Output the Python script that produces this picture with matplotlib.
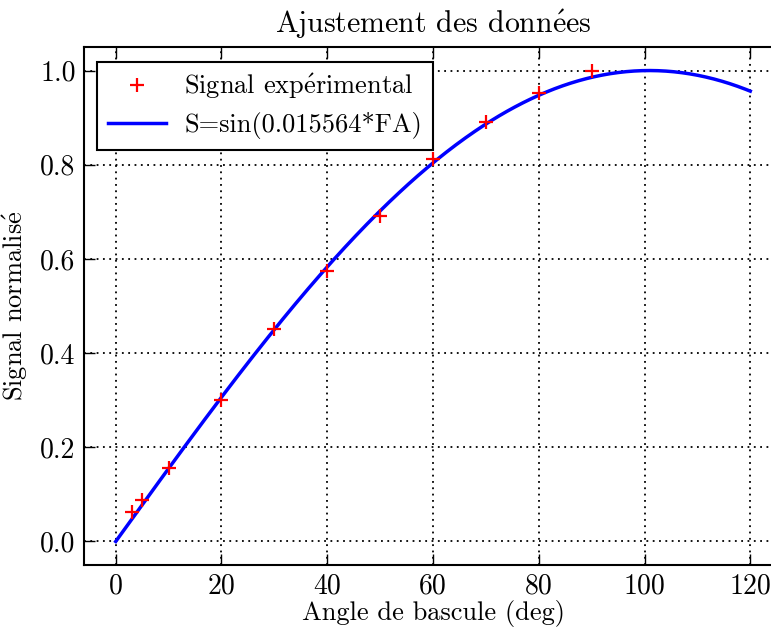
import numpy as np
import matplotlib
matplotlib.use('Agg')
import matplotlib.pyplot as plt

plt.rcParams['font.family'] = 'serif'
plt.rcParams['font.serif'] = ['cmr10']
plt.rcParams['mathtext.fontset'] = 'cm'
plt.rcParams['axes.formatter.use_mathtext'] = True

# measured points (flip angle in deg, normalised signal)
angles = [3, 5, 10, 20, 30, 40, 50, 60, 70, 80, 90]
signal = [0.062, 0.087, 0.157, 0.300, 0.451, 0.574, 0.691, 0.812, 0.891, 0.953, 1.000]

# fitted model shown in the legend: S = sin(k * FA)
k_fit = 0.015564
fa_min, fa_max = 0, 120

xticks = [0, 20, 40, 60, 80, 100, 120]
yticks = [0.0, 0.2, 0.4, 0.6, 0.8, 1.0]

fig = plt.figure(figsize=(7.71, 6.28), dpi=100)
ax = fig.add_axes([84 / 771, 1 - 565 / 628, 698 / 771, 518 / 628])

fa = np.linspace(fa_min, fa_max, 400)
ax.plot(angles, signal, '+', color='red', markersize=10, markeredgewidth=1.6,
        label=r'Signal exp$\acute{\mathrm{e}}$rimental', zorder=3)
ax.plot(fa, np.sin(k_fit * fa), '-', color='blue', linewidth=2.5,
        label='S=sin(0.015564*FA)', zorder=2)

ax.set_xlim(-6, 126)
ax.set_ylim(-0.05, 1.05)
ax.set_xticks(xticks)
ax.set_yticks(yticks)
ax.set_xticklabels([str(t) for t in xticks])
ax.set_yticklabels([f'{t:.1f}' for t in yticks])
ax.tick_params(direction='in', length=8, width=1, labelsize=20,
               top=True, right=True)
ax.tick_params(axis='y', pad=6)
ax.tick_params(axis='x', pad=6)
ax.grid(True, color='k', linestyle=(0, (1, 2.5)), linewidth=1.3)
for s in ax.spines.values():
    s.set_linewidth(1.5)

ax.set_title(r'Ajustement des donn$\acute{\mathrm{e}}$es', fontsize=21.5, pad=10)
ax.set_xlabel('Angle de bascule (deg)', fontsize=19, labelpad=0)
ax.set_ylabel(r'Signal normalis$\acute{\mathrm{e}}$', fontsize=19, labelpad=7)

leg = ax.legend(loc='upper left', fontsize=19, fancybox=False, framealpha=1,
                edgecolor='k', borderpad=0.4, handlelength=2.2, handletextpad=0.7,
                labelspacing=0.4, numpoints=1, borderaxespad=0,
                bbox_to_anchor=(0.019, 0.972))
leg.get_frame().set_linewidth(1.5)

fig.savefig('out.png', dpi=100)
